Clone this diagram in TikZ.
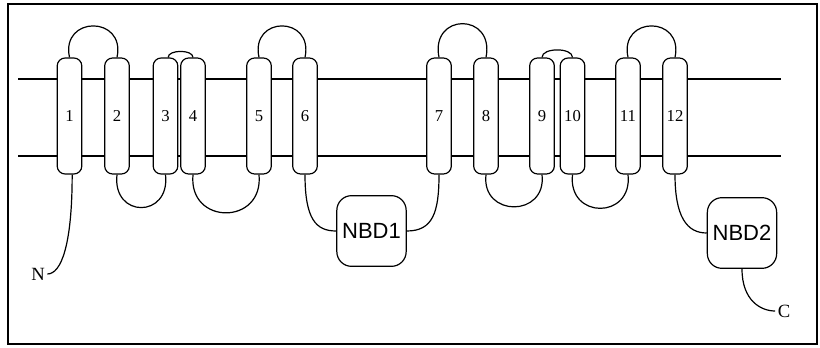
\documentclass[tikz,border=0pt]{standalone}
\usepackage{fontspec}
\setmainfont{Liberation Serif}
\newfontfamily\nbdfont{Liberation Sans}
\begin{document}
\begin{tikzpicture}[x=0.75pt,y=0.75pt,line width=0.9pt,
    helix/.style={draw,fill=white,rounded corners=6pt,inner sep=0pt,
      minimum width=18.5pt,minimum height=87pt,font=\fontsize{12.5}{12.5}\selectfont},
    nbd/.style={draw,fill=white,rounded corners=11pt,inner sep=0pt,
      minimum width=52pt,minimum height=53pt,font=\nbdfont\fontsize{16.5}{16.5}\selectfont},
    term/.style={inner sep=1.5pt,font=\fontsize{14}{14}\selectfont}]
  \useasboundingbox (0,0) rectangle (820,347);
  \draw[line width=1.5pt] (8,3) rectangle (817,343);
  % membrane
  \draw (18,268)--(781,268);
  \draw (18,191)--(781,191);
  % helices
  \foreach \n/\x in {1/69.5,2/117,3/165.5,4/193,5/259,6/305,7/439,8/486,9/542,10/572.5,11/628,12/675}
    \node[helix] (p\n) at (\x,231) {\n};
  \node[nbd] (nbd1) at (371.5,116) {NBD1};
  \node[nbd] (nbd2) at (742,114) {NBD2};
  \node[term] (N) at (38,73) {N};
  \node[term] (C) at (784,36) {C};
  % loops outside
  \draw (p1.north) .. controls +(-9,42) and +(9,42) .. (p2.north);
  \draw ([xshift=2pt]p3.north) .. controls +(0,8) and +(0,8) .. (p4.north);
  \draw (p5.north) .. controls +(-9,42) and +(9,42) .. (p6.north);
  \draw (p7.north) .. controls +(-9,45) and +(9,45) .. (p8.north);
  \draw (p9.north) .. controls +(0,10) and +(0,10) .. (p10.north);
  \draw (p11.north) .. controls +(-9,42) and +(9,42) .. (p12.north);
  % loops inside
  \draw (p2.south) .. controls +(-5,-44) and +(5,-44) .. (p3.south);
  \draw (p4.south) .. controls +(-5,-51) and +(5,-51) .. (p5.south);
  \draw (p8.south) .. controls +(-5,-43) and +(5,-43) .. (p9.south);
  \draw (p10.south) .. controls +(-5,-45) and +(5,-45) .. (p11.south);
  % tails
  \draw ([xshift=2pt]p1.south) .. controls +(0,-70) and +(14,0) .. (N.east);
  \draw (p6.south) .. controls +(0,-45) and +(-20,0) .. (nbd1.west);
  \draw (nbd1.east) .. controls +(26,0) and +(0,-38) .. (p7.south);
  \draw (p12.south) .. controls +(0,-42) and +(-20,0) .. (nbd2.west);
  \draw (nbd2.south) .. controls +(0,-32) and +(-14,0) .. (C.west);
\end{tikzpicture}
\end{document}
